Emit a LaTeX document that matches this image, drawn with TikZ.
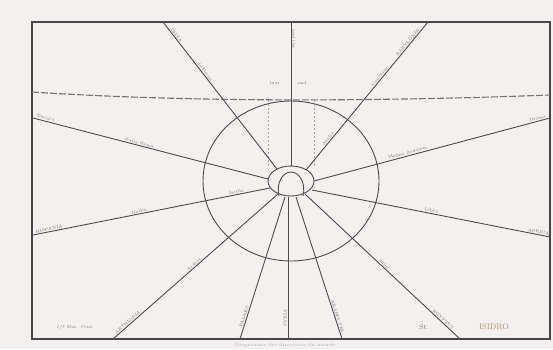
\documentclass[tikz,border=0pt]{standalone}
\begin{document}
\begin{tikzpicture}[x=1pt,y=-1pt,
  ln/.style={draw=black!70, line width=0.9pt},
  fr/.style={draw=black!72, line width=1.2pt},
  dsh/.style={draw=black!55, line width=1.1pt, dash pattern=on 7pt off 2pt},
  dot/.style={draw=black!35, line width=0.5pt, dash pattern=on 2pt off 2pt},
  lbl/.style={font=\fontsize{4.2}{5}\selectfont, text=black!55, sloped, above, inner sep=0.8pt},
  sm/.style={font=\fontsize{4.2}{5}\selectfont, text=black!55}]
\definecolor{paper}{HTML}{F4F0EF}
\definecolor{rust}{HTML}{B48E66}
\fill[paper] (0,0) rectangle (553,349);
\useasboundingbox (0,0) rectangle (553,349);
% frame
\draw[fr] (32,22) rectangle (550,339);
% horizontal dashed curve
\coordinate (hl) at (32,92);
\coordinate (hr) at (550,95);
\draw[dsh] (hl) .. controls (200,103) and (390,101) .. (hr);
% centre
\coordinate (C) at (291,181);
\draw[ln] (C) ellipse [x radius=88pt, y radius=80pt];
% dotted verticals
\coordinate (d1a) at (268,100); \coordinate (d1b) at (268,166);
\coordinate (d2a) at (314,100); \coordinate (d2b) at (314,166);
\draw[dot] (d1a) -- (d1b);
\draw[dot] (d2a) -- (d2b);
% ray end points
\coordinate (e1) at (163,22);  \coordinate (s1) at (277,169);
\coordinate (e2) at (291,22);  \coordinate (s2) at (291,167);
\coordinate (e3) at (428,22);  \coordinate (s3) at (306,170);
\coordinate (e4) at (33,118);  \coordinate (s4) at (268,179);
\coordinate (e5) at (550,118); \coordinate (s5) at (314,181);
\coordinate (e6) at (33,235);  \coordinate (s6) at (270,188);
\coordinate (e7) at (550,237); \coordinate (s7) at (312,190);
\coordinate (e8) at (113,339); \coordinate (s8) at (278,194);
\coordinate (e9) at (460,339); \coordinate (s9) at (305,194);
\coordinate (e10) at (240,339); \coordinate (s10) at (285,197);
\coordinate (e11) at (288,339); \coordinate (s11) at (288,197);
\coordinate (e12) at (342,339); \coordinate (s12) at (296,197);
\draw[ln] (e1) -- node[lbl,pos=0.1]{INDIA} node[lbl,pos=0.35]{de Persia} (s1);
\draw[ln] (e2) -- node[lbl,pos=0.12]{and the} (s2);
\draw[ln] (e3) -- node[lbl,pos=0.15]{BABYLONIA} node[lbl,pos=0.38]{Caucasus} node[lbl,pos=0.8]{Media} (s3);
\draw[ln] (e4) -- node[lbl,pos=0.05]{Europa} node[lbl,pos=0.45]{Italia Roma} (s4);
\draw[ln] (e5) -- node[lbl,pos=0.05]{Oriens} node[lbl,pos=0.6]{Magna Armenia} (s5);
\draw[ln] (e6) -- node[lbl,pos=0.07]{HISPANIA} node[lbl,pos=0.45]{Gallia} node[lbl,pos=0.86]{Sicilia} (s6);
\draw[ln] (e7) -- node[lbl,pos=0.05]{AFRICA} node[lbl,pos=0.5]{Libya} (s7);
\draw[ln] (e8) -- node[lbl,pos=0.1]{AETHIOPIA} node[lbl,pos=0.5]{Arabia} (s8);
\draw[ln] (e9) -- node[lbl,pos=0.12]{EGYPTUS} node[lbl,pos=0.5]{Nilus} (s9);
\draw[ln] (e10) -- node[lbl,pos=0.15]{PALAES} (s10);
\draw[ln] (e11) -- node[lbl,pos=0.15]{SYRIA} (s11);
\draw[ln] (e12) -- node[lbl,pos=0.15]{ARABIA FEL} (s12);
% small ellipse
\fill[paper] (C) ellipse [x radius=23pt, y radius=15pt];
\draw[ln] (C) ellipse [x radius=23pt, y radius=15pt];
\coordinate (ht) at (291,172);
\coordinate (hbl) at (279,196);
\coordinate (hbr) at (303,196);
\draw[ln] (ht) .. controls (282,172) and (276,184) .. (hbl);
\draw[ln] (ht) .. controls (300,172) and (306,184) .. (hbr);
% small texts
\node[sm] (t1) at (275,83) {leur};
\node[sm] (t2) at (302,83) {and};
\node[font=\fontsize{4.5}{5}\selectfont\itshape, text=black!55] (t3) at (75,327) {1/5 Mus. Crist.};
\node[font=\fontsize{7}{8}\selectfont, text=black!55] (t4) at (424,327) {St.};
\node[font=\fontsize{8}{9}\selectfont, text=rust] (t5) at (494,327) {ISIDRO};
\node[font=\fontsize{4.6}{5}\selectfont, text=black!30] (t6) at (285,345) {Diagramme des directions du monde};
\end{tikzpicture}
\end{document}
